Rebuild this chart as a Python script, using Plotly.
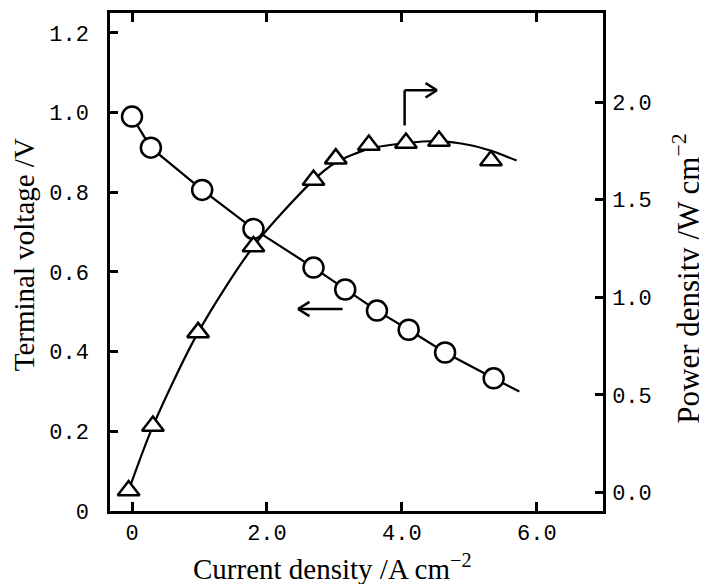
import plotly.graph_objects as go

# ---- data ----
current_v = [0.0, 0.28, 1.04, 1.80, 2.69, 3.16, 3.63, 4.10, 4.64, 5.36]
voltage = [0.99, 0.912, 0.806, 0.708, 0.611, 0.556, 0.503, 0.455, 0.398, 0.333]
fit_v_x = [0.0, 0.28, 1.04, 1.80, 2.69, 3.16, 3.63, 4.10, 4.64, 5.36, 5.74]
fit_v_y = [0.99, 0.912, 0.806, 0.708, 0.611, 0.556, 0.503, 0.455, 0.398, 0.333, 0.30]

current_p = [-0.05, 0.31, 0.98, 1.80, 2.69, 3.02, 3.51, 4.06, 4.55, 5.32]
power = [0.01, 0.34, 0.82, 1.26, 1.60, 1.71, 1.78, 1.79, 1.80, 1.70]
fit_p_x = [-0.05, 0.31, 0.98, 1.80, 2.69, 3.02, 3.51, 4.06, 4.55, 5.0, 5.32, 5.70]
fit_p_y = [0.01, 0.34, 0.82, 1.26, 1.60, 1.69, 1.76, 1.79, 1.80, 1.78, 1.75, 1.70]

x_ticks = [0, 2, 4, 6]
x_ticktext = ["0", "2.0", "4.0", "6.0"]
v_ticks = [0, 0.2, 0.4, 0.6, 0.8, 1.0, 1.2]
v_ticktext = ["0", "0.2", "0.4", "0.6", "0.8", "1.0", "1.2"]
p_ticks = [0, 0.5, 1.0, 1.5, 2.0]
p_ticktext = ["0.0", "0.5", "1.0", "1.5", "2.0"]

x_title = "Current density /A cm<sup>−2</sup>"
v_title = "Terminal voltage /V"
p_title = "Power density /W cm<sup>−2</sup>"

BLACK = "black"
MONO = "Liberation Mono"
SERIF = "Liberation Serif"

fig = go.Figure()

fig.add_trace(go.Scatter(x=fit_v_x, y=fit_v_y, mode="lines",
                         line=dict(color=BLACK, width=2.2), showlegend=False))
fig.add_trace(go.Scatter(x=fit_p_x, y=fit_p_y, mode="lines", yaxis="y2",
                         line=dict(color=BLACK, width=2.2, shape="spline", smoothing=0.8),
                         showlegend=False))
fig.add_trace(go.Scatter(x=current_v, y=voltage, mode="markers",
                         marker=dict(symbol="circle", size=20, color="white",
                                     line=dict(color=BLACK, width=2.5)),
                         showlegend=False))
fig.add_trace(go.Scatter(x=current_p, y=power, mode="markers", yaxis="y2",
                         marker=dict(symbol="triangle-up", size=19, color="white",
                                     line=dict(color=BLACK, width=2.5)),
                         showlegend=False))

# ---- direction arrows (left: voltage, right: power) ----
shapes = []
lw = dict(color=BLACK, width=2.5)
ay = 0.507
shapes.append(dict(type="line", xref="x", yref="y", x0=2.46, y0=ay, x1=3.12, y1=ay, line=lw))
shapes.append(dict(type="line", xref="x", yref="y", x0=2.46, y0=ay, x1=2.63, y1=ay + 0.018, line=lw))
shapes.append(dict(type="line", xref="x", yref="y", x0=2.46, y0=ay, x1=2.63, y1=ay - 0.018, line=lw))
cx, cy0, cy1, cx1 = 4.04, 1.88, 2.06, 4.52
shapes.append(dict(type="line", xref="x", yref="y2", x0=cx, y0=cy0, x1=cx, y1=cy1, line=lw))
shapes.append(dict(type="line", xref="x", yref="y2", x0=cx, y0=cy1, x1=cx1, y1=cy1, line=lw))
shapes.append(dict(type="line", xref="x", yref="y2", x0=cx1, y0=cy1, x1=cx1 - 0.17, y1=cy1 + 0.037, line=lw))
shapes.append(dict(type="line", xref="x", yref="y2", x0=cx1, y0=cy1, x1=cx1 - 0.17, y1=cy1 - 0.037, line=lw))

annotations = [
    dict(text=x_title, xref="paper", yref="paper", x=0.452, y=-0.112,
         xanchor="center", yanchor="middle", showarrow=False,
         font=dict(family=SERIF, size=29, color=BLACK)),
    dict(text=v_title, xref="paper", yref="paper", x=-0.174, y=0.514, textangle=-90,
         xanchor="center", yanchor="middle", showarrow=False,
         font=dict(family=SERIF, size=29, color=BLACK)),
    dict(text=p_title, xref="paper", yref="paper", x=1.170, y=0.466, textangle=-90,
         xanchor="center", yanchor="middle", showarrow=False,
         font=dict(family=SERIF, size=31, color=BLACK)),
]

fig.update_layout(
    width=707, height=584,
    margin=dict(l=102, r=112, t=5, b=81),
    paper_bgcolor="white", plot_bgcolor="white",
    shapes=shapes, annotations=annotations,
    xaxis=dict(range=[-0.326, 6.98], tickvals=x_ticks, ticktext=x_ticktext,
               ticks="inside", ticklen=9, tickwidth=2.5, tickcolor=BLACK,
               showline=True, linecolor=BLACK, linewidth=2.5, mirror="ticks",
               showgrid=False, zeroline=False, automargin=False,
               tickfont=dict(family=MONO, size=22, color=BLACK)),
    yaxis=dict(range=[0, 1.25], tickvals=v_ticks, ticktext=v_ticktext,
               ticks="inside", ticklen=8, tickwidth=2.5, tickcolor=BLACK,
               showline=True, linecolor=BLACK, linewidth=2.5,
               showgrid=False, zeroline=False, ticklabelstandoff=14, automargin=False,
               tickfont=dict(family=MONO, size=22, color=BLACK)),
    yaxis2=dict(range=[-0.095, 2.456], tickvals=p_ticks, ticktext=p_ticktext,
                overlaying="y", side="right",
                ticks="inside", ticklen=8, tickwidth=2.5, tickcolor=BLACK,
                showline=True, linecolor=BLACK, linewidth=2.5,
                showgrid=False, zeroline=False, ticklabelstandoff=2, automargin=False,
                tickfont=dict(family=MONO, size=22, color=BLACK)),
)

fig.write_html("out.html")
